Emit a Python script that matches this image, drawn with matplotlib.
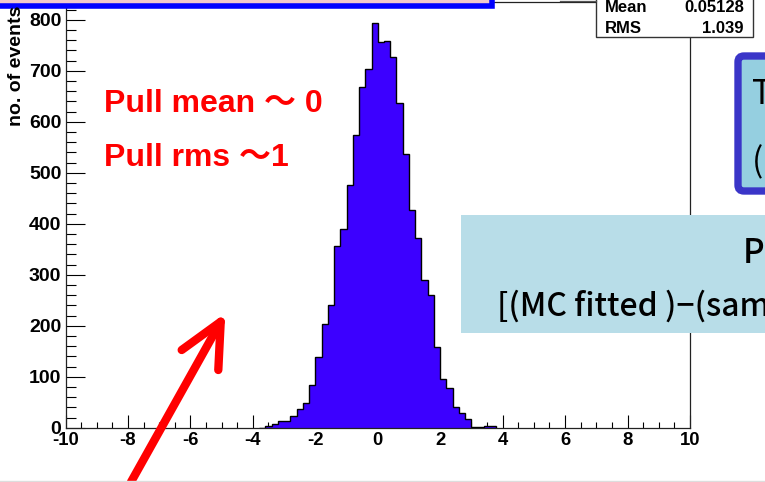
import matplotlib
matplotlib.use("Agg")
import matplotlib.pyplot as plt
import numpy as np
from matplotlib.patches import Rectangle, FancyBboxPatch
from matplotlib.lines import Line2D
from matplotlib.transforms import Affine2D

# pull distribution, 0.2 wide bins starting at -3.8
bin_lo = -3.8
bin_w = 0.2
counts = [0, 4, 7, 13, 13, 22, 37, 48, 84, 139, 203, 241, 356, 389, 476,
          574, 668, 703, 794, 756, 759, 728, 637, 537, 427, 373, 290, 260,
          159, 96, 78, 41, 29, 18, 2, 2, 4, 3]
edges = bin_lo + bin_w * np.arange(len(counts) + 1)

xticks = np.arange(-10, 11, 2)
yticks = np.arange(0, 801, 100)
stat_names = ["Mean", "RMS"]
stat_vals = ["0.05128", "1.039"]
notes = ["Pull mean \uff5e 0", "Pull rms \uff5e1"]

W, H = 765, 482
fig = plt.figure(figsize=(W / 100, H / 100), dpi=100)
pix = Affine2D().scale(1 / W, -1 / H).translate(0, 1) + fig.transFigure

ax = fig.add_axes([65.5 / W, 54.3 / H, 624.5 / W, 426.2 / H])
ax.stairs(counts, edges, fill=True, color="#3c00ff", zorder=2)
ax.stairs(counts, edges, color="black", lw=1.0, zorder=3)
ax.set_xlim(-10, 10)
ax.set_ylim(0, 836)

lab = dict(family="Liberation Sans", weight="bold")
ax.set_xticks(xticks)
ax.set_xticklabels([str(v) for v in xticks], fontsize=13.3, **lab)
ax.set_yticks(yticks)
ax.set_yticklabels([str(v) for v in yticks], fontsize=14, **lab)
ax.set_xticks(np.arange(-10, 10.01, 0.5), minor=True)
ax.set_yticks(np.arange(0, 836, 20), minor=True)
ax.tick_params(axis="x", which="major", direction="in", length=9.4, width=0.8, pad=3.4)
ax.tick_params(axis="x", which="minor", direction="in", length=4.3, width=0.8)
ax.tick_params(axis="y", which="major", direction="in", length=13.7, width=0.8, pad=3.0)
ax.tick_params(axis="y", which="minor", direction="in", length=7.5, width=0.8)
for s in ax.spines.values():
    s.set_linewidth(0.9)
    s.set_color("#222222")

fig.text(16.5, 6, "no. of events", transform=pix, rotation=90, ha="center",
         va="top", fontsize=14, **lab)

# slide overlays
fig.add_artist(Rectangle((-10, -30), 502, 35.5, transform=pix,
                         facecolor="#f0c8cc", edgecolor="#0000ff", lw=4.0))

fig.add_artist(Line2D([560, 596], [0.8, 0.8], transform=pix, color="#555555", lw=0.9))
fig.add_artist(Rectangle((596, -20), 157, 56.7, transform=pix,
                         facecolor="white", edgecolor="#333333", lw=1.0))
for i, (n, v) in enumerate(zip(stat_names, stat_vals)):
    fig.text(605, 11.7 + 21 * i, n, transform=pix, ha="left", va="baseline",
             fontsize=12, **lab)
    fig.text(744, 11.7 + 21 * i, v, transform=pix, ha="right", va="baseline",
             fontsize=12, **lab)

for i, t in enumerate(notes):
    fig.text(104, 112 + 54 * i, t, transform=pix, ha="left", va="baseline",
             fontsize=23, color="#ff0000", weight="bold",
             family=["Liberation Sans", "Noto Sans CJK JP"])

fig.add_artist(FancyBboxPatch((738, 56), 80, 135, transform=pix,
                              boxstyle="round,pad=0,rounding_size=6",
                              facecolor="#95cfe0", edgecolor="#3a35c8", lw=5.3))
fig.text(752, 104, "T", transform=pix, ha="left", va="baseline", fontsize=24,
         family="Noto Sans CJK JP", color="black")
fig.text(752, 172, "(", transform=pix, ha="left", va="baseline", fontsize=24,
         family="Noto Sans CJK JP", color="black")

fig.add_artist(Rectangle((461, 215), 340, 118.3, transform=pix,
                         facecolor="#b8dde8", edgecolor="none"))
fig.text(743, 263, "P", transform=pix, ha="left", va="baseline", fontsize=24,
         family="Noto Sans CJK JP", weight="medium", color="black")
fig.text(497, 316, "[(MC fitted )\u2212(sam", transform=pix, ha="left",
         va="baseline", fontsize=23, family="Noto Sans CJK JP",
         weight="medium", color="black")

# red arrow
arrow = dict(transform=pix, color="#ff0000", lw=6, solid_capstyle="round")
fig.add_artist(Line2D([131, 220.7], [482, 321.7], **arrow))
fig.add_artist(Line2D([181.7, 220.7, 218.3], [350, 321.7, 370], **arrow))

fig.add_artist(Line2D([0, W], [480.5, 480.5], transform=pix, color="#dddddd", lw=1))

fig.savefig("out.png", dpi=100)
